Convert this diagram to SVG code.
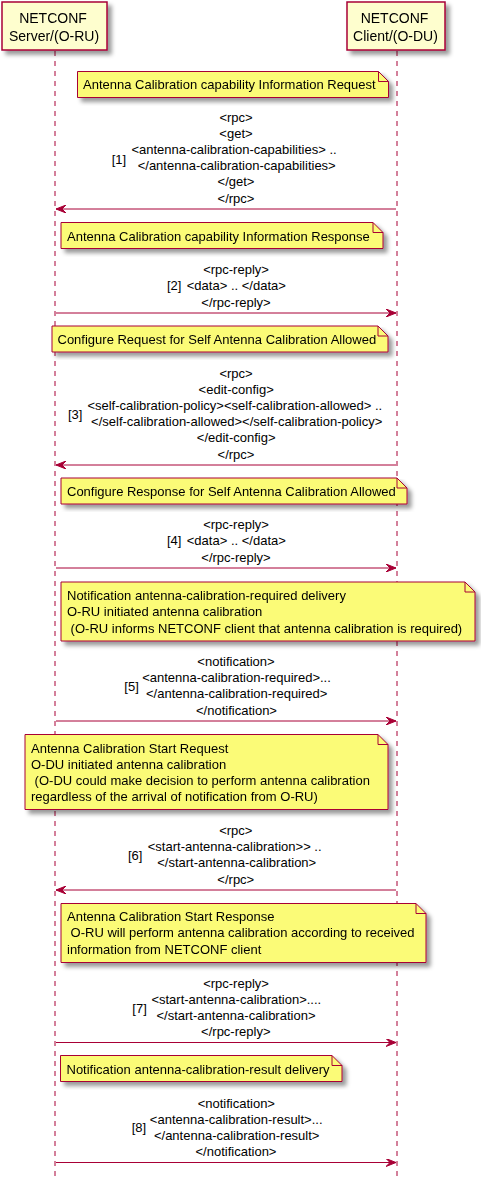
<svg xmlns="http://www.w3.org/2000/svg" width="481" height="1181" viewBox="0 0 481 1181">
<defs>
<filter id="sh" x="-10%" y="-10%" width="130%" height="140%"><feGaussianBlur in="SourceAlpha" stdDeviation="2" result="b"/><feColorMatrix in="b" type="matrix" values="0 0 0 0 0 0 0 0 0 0 0 0 0 0 0 0 0 0 0.4 0" result="b2"/><feOffset in="b2" dx="4" dy="4" result="b3"/><feBlend in="SourceGraphic" in2="b3" mode="normal"/></filter>
<marker id="ah" markerWidth="10" markerHeight="8" refX="10" refY="4" orient="auto" markerUnits="userSpaceOnUse"><polygon points="0,0 10,4 0,8 4,4" fill="#A80036" stroke="#A80036" stroke-width="1"/></marker>
</defs>
<style>
.part{fill:#FEFECE;stroke:#A80036;stroke-width:1.5}
.life{stroke:#A80036;stroke-width:1;stroke-dasharray:5,5}
.note{fill:#FBFB77;stroke:#A80036;stroke-width:1}
.fold{fill:none;stroke:#A80036;stroke-width:1}
.msg{stroke:#A80036;stroke-width:1;fill:none;marker-end:url(#ah)}
text{font-family:"Liberation Sans",Arial,sans-serif;font-size:13px;fill:#000}
.pt{font-size:14px;text-anchor:middle}
.c{text-anchor:middle}
</style>
<g id="lifelines">
<line class="life" x1="55" y1="51" x2="55" y2="1181"/>
<line class="life" x1="397" y1="51" x2="397" y2="1181"/>
</g>
<g id="server" filter="url(#sh)">
<rect class="part" x="2" y="2" width="105" height="48"/>
<text class="pt" x="53" y="23">NETCONF</text>
<text class="pt" x="54" y="40.5">Server/(O-RU)</text>
</g>
<g id="client" filter="url(#sh)">
<rect class="part" x="347" y="2" width="98" height="48"/>
<text class="pt" x="394.5" y="23">NETCONF</text>
<text class="pt" x="395.5" y="40.5">Client/(O-DU)</text>
</g>
<g id="note1" filter="url(#sh)">
<path class="note" d="M77.5,71.5 L77.5,97.5 L388.5,97.5 L388.5,81.5 L378.5,71.5 Z"/>
<path class="fold" d="M378.5,71.5 L378.5,81.5 L388.5,81.5"/>
<text x="83" y="89">Antenna Calibration capability Information Request</text>
</g>
<g id="note2" filter="url(#sh)">
<path class="note" d="M61,222.5 L61,248.5 L383,248.5 L383,232.5 L373,222.5 Z"/>
<path class="fold" d="M373,222.5 L373,232.5 L383,232.5"/>
<text x="67" y="240.5">Antenna Calibration capability Information Response</text>
</g>
<g id="note3" filter="url(#sh)">
<path class="note" d="M52,326 L52,352 L388,352 L388,336 L378,326 Z"/>
<path class="fold" d="M378,326 L378,336 L388,336"/>
<text x="57.5" y="344">Configure Request for Self Antenna Calibration Allowed</text>
</g>
<g id="note4" filter="url(#sh)">
<path class="note" d="M61,478 L61,504 L407,504 L407,488 L397,478 Z"/>
<path class="fold" d="M397,478 L397,488 L407,488"/>
<text x="67" y="496">Configure Response for Self Antenna Calibration Allowed</text>
</g>
<g id="note5" filter="url(#sh)">
<path class="note" d="M61,582 L61,641 L475,641 L475,592 L465,582 Z"/>
<path class="fold" d="M465,582 L465,592 L475,592"/>
<text x="67" y="600">Notification antenna-calibration-required delivery</text>
<text x="67" y="616.3">O-RU initiated antenna calibration</text>
<text x="67" y="632.6" xml:space="preserve"> (O-RU informs NETCONF client that antenna calibration is required)</text>
</g>
<g id="note6" filter="url(#sh)">
<path class="note" d="M25,734.5 L25,809.5 L388,809.5 L388,744.5 L378,734.5 Z"/>
<path class="fold" d="M378,734.5 L378,744.5 L388,744.5"/>
<text x="31" y="752.5">Antenna Calibration Start Request</text>
<text x="31" y="768.8">O-DU initiated antenna calibration</text>
<text x="31" y="785.1" xml:space="preserve"> (O-DU could make decision to perform antenna calibration</text>
<text x="31" y="801.4">regardless of the arrival of notification from O-RU)</text>
</g>
<g id="note7" filter="url(#sh)">
<path class="note" d="M61,903.5 L61,962.5 L426,962.5 L426,913.5 L416,903.5 Z"/>
<path class="fold" d="M416,903.5 L416,913.5 L426,913.5"/>
<text x="67" y="921">Antenna Calibration Start Response</text>
<text x="67" y="937.3" xml:space="preserve"> O-RU will perform antenna calibration according to received</text>
<text x="67" y="953.6">information from NETCONF client</text>
</g>
<g id="note8" filter="url(#sh)">
<path class="note" d="M60.5,1055.5 L60.5,1081.5 L342,1081.5 L342,1065.5 L332,1055.5 Z"/>
<path class="fold" d="M332,1055.5 L332,1065.5 L342,1065.5"/>
<text x="66.5" y="1073.5">Notification antenna-calibration-result delivery</text>
</g>
<g id="connectors">
<line class="msg" x1="396" y1="209" x2="56" y2="209"/>
<line class="msg" x1="56" y1="313" x2="396" y2="313"/>
<line class="msg" x1="396" y1="465" x2="56" y2="465"/>
<line class="msg" x1="56" y1="568" x2="396" y2="568"/>
<line class="msg" x1="56" y1="721" x2="396" y2="721"/>
<line class="msg" x1="396" y1="890" x2="56" y2="890"/>
<line class="msg" x1="56" y1="1042.5" x2="396" y2="1042.5"/>
<line class="msg" x1="56" y1="1162.5" x2="396" y2="1162.5"/>
</g>
<g id="label1">
<text x="111.7" y="163.5">[1]</text>
<text class="c" x="236" y="122">&lt;rpc&gt;</text>
<text class="c" x="236" y="138.1">&lt;get&gt;</text>
<text class="c" x="234" y="154.2">&lt;antenna-calibration-capabilities&gt; ..</text>
<text class="c" x="236.7" y="170.3">&lt;/antenna-calibration-capabilities&gt;</text>
<text class="c" x="236" y="186.4">&lt;/get&gt;</text>
<text class="c" x="236" y="202.5">&lt;/rpc&gt;</text>
</g>
<g id="label2">
<text class="c" x="236" y="274.3">&lt;rpc-reply&gt;</text>
<text x="167" y="290.4">[2]</text>
<text class="c" x="236.3" y="290.4">&lt;data&gt; .. &lt;/data&gt;</text>
<text class="c" x="236" y="306.5">&lt;/rpc-reply&gt;</text>
</g>
<g id="label3">
<text x="68" y="419">[3]</text>
<text class="c" x="236" y="378">&lt;rpc&gt;</text>
<text class="c" x="236.2" y="394.1">&lt;edit-config&gt;</text>
<text class="c" x="234.8" y="410.2">&lt;self-calibration-policy&gt;&lt;self-calibration-allowed&gt; ..</text>
<text class="c" x="236.7" y="426.3">&lt;/self-calibration-allowed&gt;&lt;/self-calibration-policy&gt;</text>
<text class="c" x="236.2" y="442.4">&lt;/edit-config&gt;</text>
<text class="c" x="236" y="458.5">&lt;/rpc&gt;</text>
</g>
<g id="label4">
<text class="c" x="236" y="529.3">&lt;rpc-reply&gt;</text>
<text x="167" y="545.4">[4]</text>
<text class="c" x="236.3" y="545.4">&lt;data&gt; .. &lt;/data&gt;</text>
<text class="c" x="236" y="561.5">&lt;/rpc-reply&gt;</text>
</g>
<g id="label5">
<text x="124.3" y="691">[5]</text>
<text class="c" x="236" y="666.2">&lt;notification&gt;</text>
<text class="c" x="236.5" y="682.3">&lt;antenna-calibration-required&gt;...</text>
<text class="c" x="236.7" y="698.4">&lt;/antenna-calibration-required&gt;</text>
<text class="c" x="236.5" y="714.5">&lt;/notification&gt;</text>
</g>
<g id="label6">
<text x="128" y="860">[6]</text>
<text class="c" x="235.8" y="835.2">&lt;rpc&gt;</text>
<text class="c" x="234.7" y="851.3">&lt;start-antenna-calibration&gt;&gt; ..</text>
<text class="c" x="236.7" y="867.4">&lt;/start-antenna-calibration&gt;</text>
<text class="c" x="235.8" y="883.5">&lt;/rpc&gt;</text>
</g>
<g id="label7">
<text x="132.3" y="1012.5">[7]</text>
<text class="c" x="236" y="987.7">&lt;rpc-reply&gt;</text>
<text class="c" x="236.3" y="1003.8">&lt;start-antenna-calibration&gt;....</text>
<text class="c" x="236" y="1019.9">&lt;/start-antenna-calibration&gt;</text>
<text class="c" x="235.8" y="1036">&lt;/rpc-reply&gt;</text>
</g>
<g id="label8">
<text x="131.7" y="1132">[8]</text>
<text class="c" x="236.3" y="1107.7">&lt;notification&gt;</text>
<text class="c" x="236.2" y="1123.8">&lt;antenna-calibration-result&gt;...</text>
<text class="c" x="236.7" y="1139.9">&lt;/antenna-calibration-result&gt;</text>
<text class="c" x="236" y="1156">&lt;/notification&gt;</text>
</g>
</svg>
